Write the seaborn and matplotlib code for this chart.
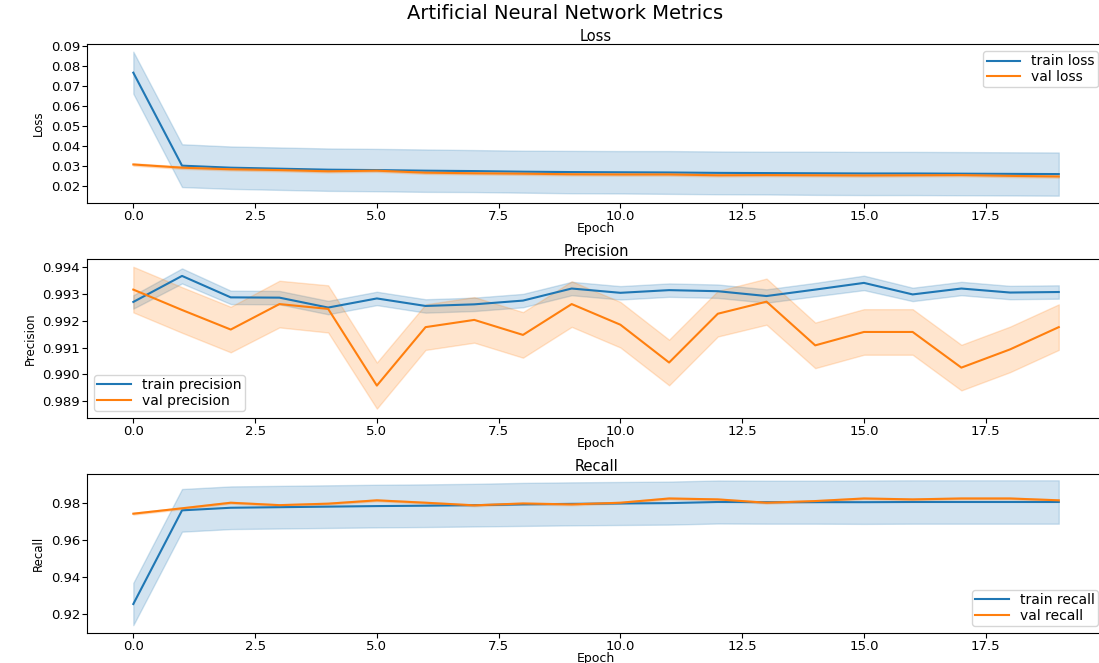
import matplotlib
matplotlib.use("Agg")
import matplotlib.pyplot as plt
from matplotlib.ticker import MultipleLocator
import seaborn as sns
import pandas as pd

# Epochs
epochs = list(range(20))

# Loss (mean curve and half width of the shaded band)
train_loss = [0.0765, 0.0300, 0.0290, 0.0285, 0.0280, 0.0278, 0.0275, 0.0273, 0.0270, 0.0268,
              0.0267, 0.0266, 0.0264, 0.0263, 0.0262, 0.0261, 0.0261, 0.0260, 0.0259, 0.0258]
train_loss_band = [0.0105, 0.0107, 0.0106, 0.0106, 0.0106, 0.0106, 0.0106, 0.0105, 0.0105, 0.0106,
                   0.0106, 0.0107, 0.0107, 0.0107, 0.0108, 0.0108, 0.0108, 0.0108, 0.0108, 0.0108]
val_loss = [0.0306, 0.0290, 0.0282, 0.0278, 0.0272, 0.0275, 0.0265, 0.0262, 0.0260, 0.0257,
            0.0256, 0.0256, 0.0252, 0.0253, 0.0252, 0.0251, 0.0252, 0.0253, 0.0249, 0.0246]
val_loss_band = [0.0006] * 20

# Precision
train_precision = [0.99270, 0.99367, 0.99287, 0.99286, 0.99249, 0.99283, 0.99255, 0.99261, 0.99275, 0.99320,
                   0.99304, 0.99314, 0.99310, 0.99292, 0.99316, 0.99341, 0.99298, 0.99320, 0.99305, 0.99307]
train_precision_band = [0.00025, 0.00028, 0.00025, 0.00025, 0.00025, 0.00025, 0.00025, 0.00025, 0.00025, 0.00025,
                        0.00025, 0.00025, 0.00025, 0.00025, 0.00025, 0.00027, 0.00025, 0.00025, 0.00025, 0.00025]
val_precision = [0.99316, 0.99240, 0.99167, 0.99262, 0.99244, 0.98958, 0.99176, 0.99203, 0.99147, 0.99262,
                 0.99185, 0.99044, 0.99226, 0.99271, 0.99108, 0.99158, 0.99158, 0.99025, 0.99093, 0.99176]
val_precision_band = [0.00085, 0.00085, 0.00085, 0.00087, 0.00088, 0.00086, 0.00085, 0.00085, 0.00085, 0.00085,
                      0.00085, 0.00085, 0.00085, 0.00086, 0.00085, 0.00085, 0.00085, 0.00085, 0.00085, 0.00085]

# Recall
train_recall = [0.9254, 0.9759, 0.9773, 0.9776, 0.9779, 0.9782, 0.9784, 0.9787, 0.9791, 0.9794,
                0.9796, 0.9798, 0.9804, 0.9803, 0.9803, 0.9803, 0.9804, 0.9804, 0.9804, 0.9804]
train_recall_band = [0.0114, 0.0115, 0.0115, 0.0115, 0.0115, 0.0115, 0.0115, 0.0115, 0.0116, 0.0116,
                     0.0116, 0.0116, 0.0116, 0.0116, 0.0116, 0.0117, 0.0117, 0.0117, 0.0117, 0.0117]
val_recall = [0.9741, 0.9770, 0.9800, 0.9787, 0.9795, 0.9813, 0.9800, 0.9786, 0.9796, 0.9791,
              0.9800, 0.9823, 0.9818, 0.9800, 0.9809, 0.9823, 0.9818, 0.9823, 0.9823, 0.9813]
val_recall_band = [0.0005] * 20

blue = '#1f77b4'
orange = '#ff7f0e'


def band_frame(mean, half):
    # low / mean / high rows per epoch, seaborn averages them and shades min-max
    rows = []
    for e, m, h in zip(epochs, mean, half):
        rows += [(e, m - h), (e, m), (e, m + h)]
    return pd.DataFrame(rows, columns=['epoch', 'value'])


def min_max(v):
    return (v.min(), v.max())


panels = [
    ('Loss', train_loss, train_loss_band, val_loss, val_loss_band,
     'train loss', 'val loss', 'upper right', (0.01133, 0.09083), 0.01),
    ('Precision', train_precision, train_precision_band, val_precision, val_precision_band,
     'train precision', 'val precision', 'lower left', (0.98837, 0.99430), 0.001),
    ('Recall', train_recall, train_recall_band, val_recall, val_recall_band,
     'train recall', 'val recall', 'lower right', (0.90976, 0.99547), 0.02),
]

fig = plt.figure(figsize=(10.99, 6.63), dpi=100)
bottoms = [0.6938, 0.3695, 0.0452]

for (title, tr, tr_b, va, va_b, tr_lab, va_lab, loc, ylim, step), b in zip(panels, bottoms):
    ax = fig.add_axes([0.0792, b, 0.9263, 0.2398])
    sns.lineplot(data=band_frame(tr, tr_b), x='epoch', y='value', errorbar=min_max,
                 color=blue, label=tr_lab, ax=ax)
    sns.lineplot(data=band_frame(va, va_b), x='epoch', y='value', errorbar=min_max,
                 color=orange, label=va_lab, ax=ax)
    ax.set_xlim(-0.95, 19.95)
    ax.set_ylim(*ylim)
    ax.yaxis.set_major_locator(MultipleLocator(step))
    ax.set_title(title, fontsize=10.5, pad=2)
    ax.set_xlabel('Epoch', fontsize=9, labelpad=-1)
    ax.set_ylabel(title, fontsize=8.5)
    ax.tick_params(labelsize=9.5, pad=1.5, length=3.5)
    ax.legend(loc=loc, fontsize=10, labelspacing=0.1, borderpad=0.25, handlelength=2.4)

fig.suptitle('Artificial Neural Network Metrics', fontsize=14, x=0.514, y=0.994)

plt.savefig('out.png', dpi=100)
plt.close()
